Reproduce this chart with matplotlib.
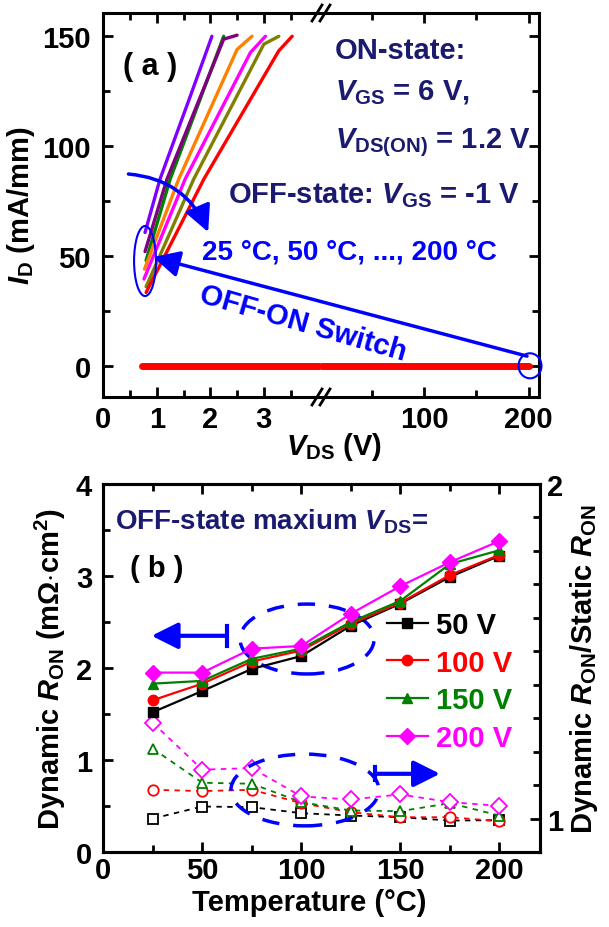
import matplotlib
matplotlib.use("Agg")
import matplotlib.pyplot as plt
from matplotlib.patches import Ellipse, ConnectionPatch
from matplotlib.lines import Line2D
from matplotlib.ticker import FixedLocator

plt.rcParams['font.family'] = ['Liberation Sans', 'DejaVu Sans']
plt.rcParams['font.weight'] = 'bold'
plt.rcParams['axes.labelweight'] = 'bold'
plt.rcParams['mathtext.fontset'] = 'custom'
plt.rcParams['mathtext.rm'] = 'Liberation Sans:bold'
plt.rcParams['mathtext.it'] = 'Liberation Sans:italic:bold'
plt.rcParams['mathtext.bf'] = 'Liberation Sans:bold'

# ---- panel (a): ON-state I-V curves after switching ----
curve_colors = ['#008000', '#7f00ff', '#800080', '#ff8000', '#ff00ff', '#808000', '#ff0000']
curve_vds = [
    [0.80, 1.25, 2.25],
    [0.78, 1.06, 1.63, 2.03],
    [0.78, 1.19, 2.25, 2.50],
    [0.77, 1.41, 2.50, 2.78],
    [0.76, 1.53, 2.75, 3.03],
    [0.80, 1.69, 3.00, 3.28],
    [0.80, 1.88, 3.28, 3.53],
]
curve_id = [
    [48.0, 85.0, 150.0],
    [60.7, 85.0, 123.0, 150.0],
    [52.0, 85.0, 148.7, 150.5],
    [44.0, 85.0, 144.0, 150.0],
    [39.5, 85.0, 142.6, 150.0],
    [36.0, 85.0, 146.4, 150.0],
    [33.4, 85.0, 143.4, 150.0],
]
off_vds = [0.72, 200]
off_id = [0, 0]

# ---- panel (b): dynamic Ron vs temperature ----
temps = [25, 50, 75, 100, 125, 150, 175, 200]
ron_50 = [1.52, 1.75, 1.99, 2.13, 2.46, 2.70, 2.99, 3.22]
ron_100 = [1.65, 1.83, 2.07, 2.19, 2.48, 2.71, 3.01, 3.23]
ron_150 = [1.83, 1.86, 2.10, 2.21, 2.50, 2.73, 3.13, 3.28]
ron_200 = [1.95, 1.95, 2.21, 2.24, 2.59, 2.89, 3.15, 3.38]
ratio_50 = [1.000, 1.036, 1.034, 1.016, 1.009, 1.004, 0.994, 0.995]
ratio_100 = [1.086, 1.082, 1.086, 1.046, 1.019, 1.004, 1.004, 0.992]
ratio_150 = [1.209, 1.107, 1.104, 1.049, 1.024, 1.022, 1.046, 1.009]
ratio_200 = [1.286, 1.146, 1.151, 1.066, 1.057, 1.072, 1.049, 1.038]
series_labels = ['50 V', '100 V', '150 V', '200 V']
series_colors = ['#000000', '#ff0000', '#008000', '#ff00ff']
series_markers = ['s', 'o', '^', 'D']

W, H = 609, 928
navy = '#1a1a6e'
blue = '#0000ff'


def fx(px):
    return px / W


def fy(py):
    return 1 - py / H


fig = plt.figure(figsize=(6.09, 9.28), dpi=100)

# top panel: broken x axis made from two axes
axl = fig.add_axes([fx(103.3), fy(398), (320 - 103.3) / W, 384 / H])
axr = fig.add_axes([fx(320), fy(398), (539 - 320) / W, 384 / H])

for c, xs, ys in zip(curve_colors, curve_vds, curve_id):
    axl.plot(xs, ys, color=c, lw=2.4, solid_capstyle='round')
axl.plot(off_vds, off_id, color='#ff0000', lw=5, solid_capstyle='round')
axr.plot(off_vds, off_id, color='#ff0000', lw=5, solid_capstyle='round')

ylim = (-14.2, 160.6)
axl.set_xlim(0, 4.05)
axr.set_xlim(0, 210)
axl.set_ylim(*ylim)
axr.set_ylim(*ylim)

axl.spines['right'].set_visible(False)
axr.spines['left'].set_visible(False)
for ax in (axl, axr):
    for s in ax.spines.values():
        s.set_linewidth(2.2)

axl.xaxis.set_major_locator(FixedLocator([0, 1, 2, 3]))
axl.xaxis.set_minor_locator(FixedLocator([0.5, 1.5, 2.5, 3.5]))
axr.xaxis.set_major_locator(FixedLocator([100, 200]))
axr.xaxis.set_minor_locator(FixedLocator([50, 150]))
for ax in (axl, axr):
    ax.yaxis.set_major_locator(FixedLocator([0, 50, 100, 150]))
    ax.yaxis.set_minor_locator(FixedLocator([25, 75, 125]))
    ax.tick_params(which='both', direction='in', top=True, width=2, labelsize=21)
    ax.tick_params(which='major', length=7)
    ax.tick_params(which='minor', length=5)
    ax.tick_params(axis='x', pad=6)
axl.tick_params(axis='y', which='both', left=True, right=False, pad=9)
axr.tick_params(axis='y', which='both', left=False, right=True, labelleft=False)

axl.set_ylabel(r'$I_\mathrm{D}$ (mA/mm)', fontsize=21)
axl.yaxis.set_label_coords(-0.305, 0.5)
fig.text(fx(334), fy(455), r'$V_\mathrm{DS}$ (V)', fontsize=21, ha='center', va='baseline')

# break marks
for y0 in (398, 14):
    for x0 in (312, 320):
        fig.add_artist(Line2D([fx(x0), fx(x0 + 10)], [fy(y0 + 8), fy(y0 - 8)],
                              transform=fig.transFigure, color='black', lw=2))

fig.text(fx(123), fy(75), '( a )', fontsize=22, ha='left', va='baseline')
fig.text(fx(335), fy(59), 'ON-state:', fontsize=21, color=navy, ha='left', va='baseline')
fig.text(fx(335), fy(100), r'$V_\mathrm{GS}$ = 6 V,', fontsize=21, color=navy, ha='left', va='baseline')
fig.text(fx(335), fy(148), r'$V_\mathrm{DS(ON)}$ = 1.2 V', fontsize=21, color=navy, ha='left', va='baseline')
fig.text(fx(520), fy(203), r'OFF-state: $V_\mathrm{GS}$ = -1 V', fontsize=21, color=navy,
         ha='right', va='baseline')
fig.text(fx(202), fy(260), '25 °C, 50 °C, ..., 200 °C', fontsize=20, color=blue,
         ha='left', va='baseline')
fig.text(fx(303), fy(324), 'OFF-ON Switch', fontsize=21, color=blue, rotation=-16,
         ha='center', va='center', rotation_mode='anchor')

axl.add_patch(Ellipse((0.78, 47.7), 0.41, 31.9, fill=False, ec=blue, lw=1.5, zorder=5))
axr.add_patch(Ellipse((201.4, 0), 22, 11.4, fill=False, ec=blue, lw=1.5, zorder=5, clip_on=False))
switch = ConnectionPatch(xyA=(198.5, 4.4), coordsA=axr.transData,
                         xyB=(0.93, 49.5), coordsB=axl.transData,
                         arrowstyle='-|>,head_length=0.8,head_width=0.4', mutation_scale=20,
                         lw=2.5, color=blue, shrinkA=0, shrinkB=0)
fig.add_artist(switch)
axl.annotate('', xy=(1.96, 60.9), xytext=(0.47, 87.3),
             arrowprops=dict(arrowstyle='-|>,head_length=0.8,head_width=0.4', mutation_scale=20,
                             lw=2.5, color=blue, shrinkA=0, shrinkB=0,
                             connectionstyle='arc3,rad=-0.3'))

# bottom panel
axb = fig.add_axes([fx(103.3), fy(853), (540 - 103.3) / W, 368 / H])
ax2 = axb.twinx()

rons = [ron_50, ron_100, ron_150, ron_200]
ratios = [ratio_50, ratio_100, ratio_150, ratio_200]
for lab, c, m, r, q in zip(series_labels, series_colors, series_markers, rons, ratios):
    ms = 8.5 if m == 'D' else 7.5
    axb.plot(temps, r, color=c, marker=m, ms=ms, lw=1.6, label=lab, zorder=4)
    ax2.plot(temps, q, color=c, marker=m, ms=ms, lw=1.3, mfc='white', mec=c, mew=1.3,
             ls=(0, (3, 3)))

axb.set_xlim(0, 220.5)
axb.set_ylim(0, 4)
ax2.set_ylim(0.9, 2.0)
axb.set_zorder(ax2.get_zorder() + 1)
axb.patch.set_visible(False)

for ax in (axb, ax2):
    for s in ax.spines.values():
        s.set_linewidth(2.2)

axb.xaxis.set_major_locator(FixedLocator([0, 50, 100, 150, 200]))
axb.xaxis.set_minor_locator(FixedLocator([25, 75, 125, 175]))
axb.yaxis.set_major_locator(FixedLocator([0, 1, 2, 3, 4]))
axb.yaxis.set_minor_locator(FixedLocator([0.5, 1.5, 2.5, 3.5]))
ax2.yaxis.set_major_locator(FixedLocator([1.0, 2.0]))
ax2.yaxis.set_minor_locator(FixedLocator([0.9, 1.1, 1.2, 1.3, 1.4, 1.5, 1.6, 1.7, 1.8, 1.9]))
ax2.set_yticklabels(['1', '2'])
axb.tick_params(which='both', direction='in', top=True, right=False, width=2, labelsize=21)
axb.tick_params(which='major', length=7)
axb.tick_params(which='minor', length=5)
axb.tick_params(axis='x', pad=3)
axb.tick_params(axis='y', pad=8)
ax2.tick_params(which='both', direction='in', width=2, labelsize=21, pad=5)
ax2.tick_params(which='major', length=7)
ax2.tick_params(which='minor', length=5)

axb.set_ylabel(r'Dynamic $R_\mathrm{ON}$ (m$\Omega$$\cdot$cm$^2$)', fontsize=21)
axb.yaxis.set_label_coords(-0.081, 0.5)
ax2.set_ylabel(r'Dynamic $R_\mathrm{ON}$/Static $R_\mathrm{ON}$', fontsize=21)
ax2.yaxis.set_label_coords(1.064, 0.5)
axb.set_xlabel('Temperature (°C)', fontsize=21)
axb.xaxis.set_label_coords(0.471, -0.098)

fig.text(fx(115), fy(530), r'OFF-state maxium $V_\mathrm{DS}$=', fontsize=20, color=navy,
         ha='left', va='baseline')
fig.text(fx(130), fy(577), '( b )', fontsize=21, ha='left', va='baseline')

leg = axb.legend(loc='upper left', bbox_to_anchor=(fx(386.7), fy(612)),
                 bbox_transform=fig.transFigure, frameon=False, fontsize=21,
                 borderpad=0, borderaxespad=0, labelspacing=0.33, handlelength=1.4,
                 handletextpad=0.3, labelcolor='linecolor')

dash = (0, (5, 4))
axb.add_patch(Ellipse((102.9, 2.315), 67.7, 0.76, fill=False, ec=blue, lw=2.5, ls=dash, zorder=2))
axb.add_patch(Ellipse((101.8, 0.674), 74.7, 0.78, fill=False, ec=blue, lw=2.5, ls=dash, zorder=2))
axb.annotate('', xy=(24.4, 2.35), xytext=(62.3, 2.35),
             arrowprops=dict(arrowstyle='-|>,head_length=0.8,head_width=0.4', mutation_scale=20,
                             lw=3, color=blue, shrinkA=0, shrinkB=0))
axb.plot([62.3, 62.3], [2.24, 2.46], color=blue, lw=3)
axb.annotate('', xy=(170, 0.85), xytext=(137.2, 0.85),
             arrowprops=dict(arrowstyle='-|>,head_length=0.8,head_width=0.4', mutation_scale=20,
                             lw=3, color=blue, shrinkA=0, shrinkB=0))
axb.plot([137.2, 137.2], [0.78, 0.92], color=blue, lw=3)

fig.savefig('out.png', dpi=100)
